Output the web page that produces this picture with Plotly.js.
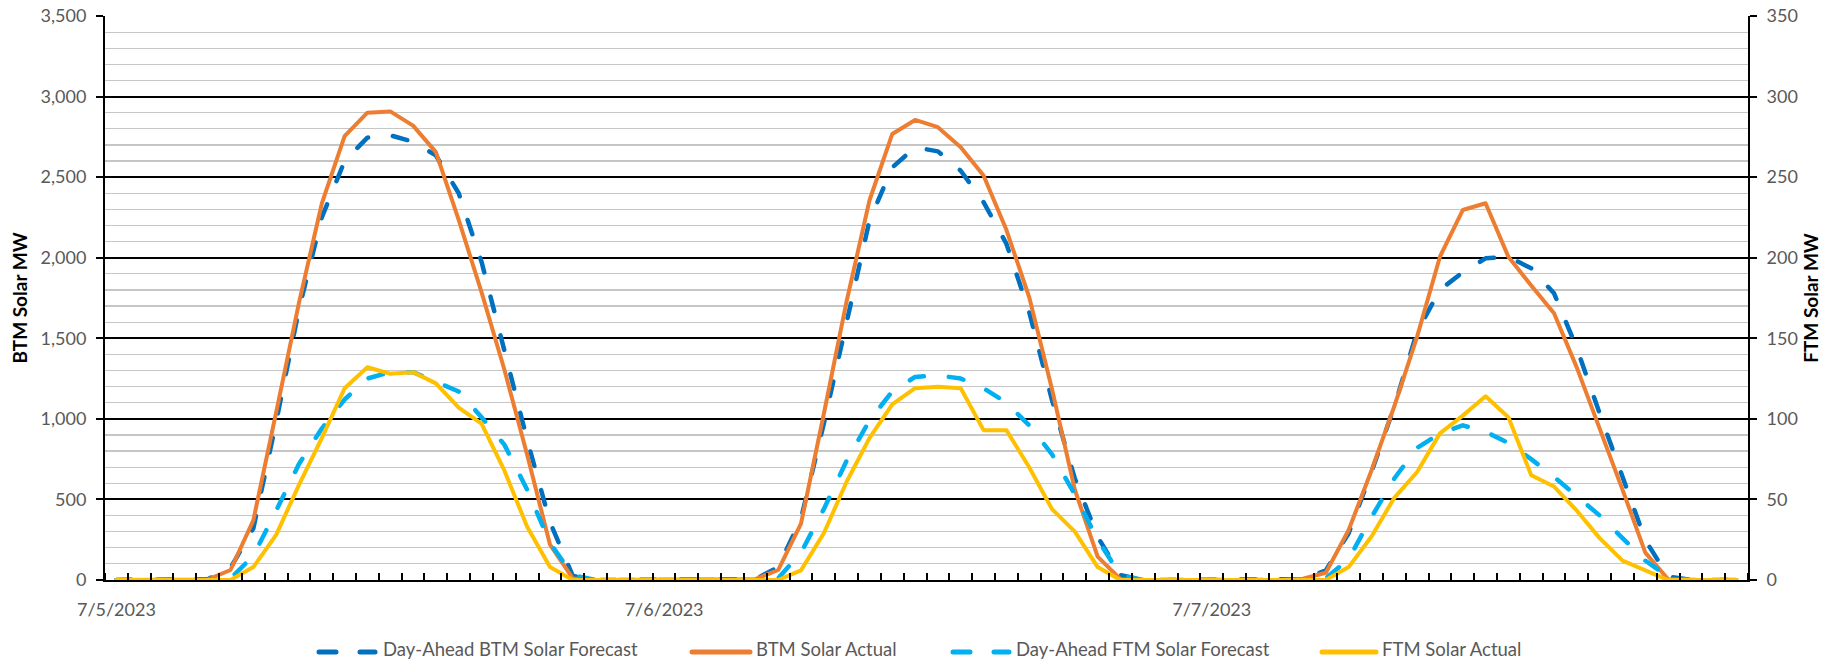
<!DOCTYPE html>
<html><head><meta charset="utf-8">
<script src="https://cdn.plot.ly/plotly-3.0.1.min.js"></script>
<style>
html,body{margin:0;padding:0;background:#fff;}
#chart{width:1831px;height:662px;}
.js-line{stroke-linecap:round;stroke-linejoin:round;}
.shapelayer path{stroke-linecap:round;}
</style></head><body><div id="chart"></div>
<script>
const days = ['7/5/2023', '7/6/2023', '7/7/2023'];
const hours = [0,1,2,3,4,5,6,7,8,9,10,11,12,13,14,15,16,17,18,19,20,21,22,23];

// Day-Ahead BTM Solar Forecast (left axis, MW)
const btmForecast = [
  0,0,0,0,5,75,320,980,1680,2250,2600,2745,2760,2720,2635,2400,1975,1425,870,360,25,0,0,0,
  0,0,0,0,5,80,380,970,1590,2230,2560,2685,2660,2540,2345,2087,1663,1116,630,269,30,0,0,0,
  0,0,0,0,5,60,290,670,1076,1541,1800,1910,1996,2006,1934,1779,1438,1034,631,248,21,0,0,0
];
// BTM Solar Actual (left axis, MW)
const btmActual = [
  0,0,0,0,3,62,370,1040,1720,2335,2755,2900,2908,2820,2655,2235,1787,1306,777,220,10,0,0,0,
  0,0,0,0,5,62,350,1030,1730,2355,2768,2855,2810,2686,2510,2173,1756,1184,560,145,5,0,0,0,
  0,0,0,0,8,45,310,680,1078,1510,2006,2296,2338,2006,1827,1655,1318,947,561,170,4,0,0,0
];
// Day-Ahead FTM Solar Forecast (right axis, MW)
const ftmForecast = [
  0,0,0,0,0,1,15,43,72,94,112,125,129,129,123,117,101,84,56,23,3,0,0,0,
  0,0,0,0,0,1,17,44,74,99,117,126,127,125,119,110,96,78,53,25,3,0,0,0,
  0,0,0,0,0,1,13,39,63,82,91,96,92,85,75,64,52,40,26,12,2,0,0,0
];
// FTM Solar Actual (right axis, MW)
const ftmActual = [
  0,0,0,0,0,0,8,28,59,88,119,132,128,129,122,107,97,68,33,8,0,0,0,0,
  0,0,0,0,0,0,6,29,61,88,109,119,120,119,93,93,70,44,30,8,0,0,0,0,
  0,0,0,0,0,0,8,27,51,67,91,102,114,101,65,58,43,26,12,6,0,0,0,0
];
const seriesNames = ['Day-Ahead BTM Solar Forecast', 'BTM Solar Actual', 'Day-Ahead FTM Solar Forecast', 'FTM Solar Actual'];
const seriesColors = ['#0070C0', '#ED7D31', '#00B0F0', '#FFC000'];

const x = [];
days.forEach((d, di) => hours.forEach((h, hi) => x.push(di * hours.length + hi)));
const N = x.length;

const DASH = '15px,25px';
const traces = [
  {x: x, y: btmForecast, yaxis: 'y', name: seriesNames[0], mode: 'lines', line: {color: seriesColors[0], width: 4.5, dash: DASH}},
  {x: x, y: btmActual, yaxis: 'y', name: seriesNames[1], mode: 'lines', line: {color: seriesColors[1], width: 4}},
  {x: x, y: ftmForecast, yaxis: 'y2', name: seriesNames[2], mode: 'lines', line: {color: seriesColors[2], width: 4.5, dash: DASH}},
  {x: x, y: ftmActual, yaxis: 'y2', name: seriesNames[3], mode: 'lines', line: {color: seriesColors[3], width: 4}}
];
traces.forEach(t => { t.showlegend = false; t.hoverinfo = 'skip'; });

// manual legend (paper coordinates)
const W = 1831, H = 662, L = 105, R = 83, T = 16, B = 82;
const pw = W - L - R, ph = H - T - B;
const px = v => (v - L) / pw;
const py = v => (H - B - v) / ph;
const legendItems = [
  {x0: 317, x1: 377, tx: 382},
  {x0: 690, x1: 752, tx: 755},
  {x0: 951, x1: 1011, tx: 1015},
  {x0: 1320, x1: 1378, tx: 1381}
];
const legendY = 652;
const shapes = [], annotations = [];
legendItems.forEach((it, i) => {
  const dashed = i % 2 === 0;
  shapes.push({type: 'line', xref: 'paper', yref: 'paper', x0: px(it.x0 + 2), x1: px(it.x1 - 2), y0: py(legendY), y1: py(legendY),
    line: {color: seriesColors[i], width: 5, dash: dashed ? '17px,24px' : 'solid'}});
  annotations.push({xref: 'paper', yref: 'paper', x: px(it.tx), y: py(661), xanchor: 'left', yanchor: 'bottom',
    text: seriesNames[i], showarrow: false, font: {size: 18.5, color: '#595959'}, borderpad: 0});
});

const tickFont = {family: 'Lato, sans-serif', size: 18, color: '#595959'};
const layout = {
  width: W, height: H,
  margin: {l: L, r: R, t: T, b: B, pad: 0},
  paper_bgcolor: '#fff', plot_bgcolor: '#fff',
  font: {family: 'Lato, sans-serif', size: 18, color: '#595959'},
  showlegend: false,
  xaxis: {
    range: [-0.5, N - 0.5], type: 'linear',
    tickmode: 'array', tickvals: days.map((d, i) => i * hours.length), ticktext: days,
    ticks: '', showline: true, linecolor: '#000', linewidth: 2,
    showgrid: false, zeroline: false, tickfont: tickFont, ticklabelstandoff: 12,
    minor: {tickmode: 'linear', tick0: -0.5, dtick: 1, ticks: 'inside', ticklen: 7, tickwidth: 2, tickcolor: '#000', showgrid: false},
    automargin: false, fixedrange: true
  },
  yaxis: {
    range: [0, 3500], tickmode: 'linear', tick0: 0, dtick: 500, tickformat: ',',
    showgrid: true, gridcolor: '#000', gridwidth: 2, zeroline: false,
    showline: true, linecolor: '#000', linewidth: 2,
    ticks: 'outside', ticklen: 7, tickwidth: 2, tickcolor: '#000',
    tickfont: tickFont, ticklabelstandoff: 6,
    minor: {tickmode: 'linear', tick0: 0, dtick: 100, showgrid: true, gridcolor: '#c6c6c6', gridwidth: 1.2, ticks: ''},
    title: {text: '<b>BTM Solar MW</b>', font: {family: 'Lato, sans-serif', size: 19, color: '#000'}, standoff: 8},
    automargin: false, fixedrange: true
  },
  yaxis2: {
    range: [0, 350], overlaying: 'y', side: 'right', tickmode: 'linear', tick0: 0, dtick: 50,
    showgrid: false, zeroline: false,
    showline: true, linecolor: '#000', linewidth: 2,
    ticks: 'outside', ticklen: 7, tickwidth: 2, tickcolor: '#000',
    tickfont: tickFont, ticklabelstandoff: 6,
    title: {text: '<b>FTM Solar MW</b>', font: {family: 'Lato, sans-serif', size: 19, color: '#000'}, standoff: 8},
    automargin: false, fixedrange: true
  },
  shapes: shapes,
  annotations: annotations
};
Plotly.newPlot('chart', traces, layout, {displayModeBar: false, staticPlot: true});
</script></body></html>
